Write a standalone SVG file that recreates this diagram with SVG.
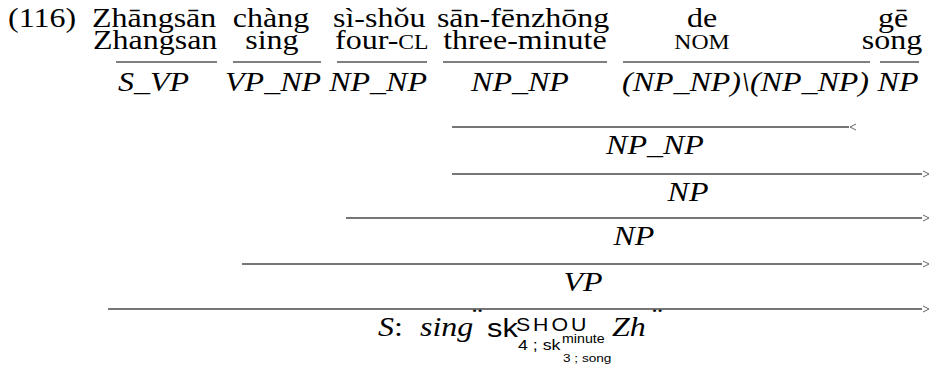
<svg xmlns="http://www.w3.org/2000/svg" width="942" height="367" viewBox="0 0 942 367">
  <style>
    .w { font-family: "Liberation Serif", "Times New Roman", serif; font-size: 27px; fill: #000; }
    .sc { font-size: 20px; }
    .cat { font-family: "Liberation Serif", "Times New Roman", serif; font-size: 27px; font-style: italic; fill: #000; }
    .mid { text-anchor: middle; }
    .end { text-anchor: end; }
    .sf { font-family: "Liberation Sans", Arial, sans-serif; fill: #000; }
    .lex { stroke: #000; stroke-width: 1.2; fill: none; }
    .rule { stroke: #4a4a4a; stroke-width: 1.6; fill: none; }
    .head { stroke: #666; stroke-width: 1; fill: none; }
  </style>

  <!-- all lettering is set slightly wide: x coordinates below are in the stretched frame -->
  <g id="labels" transform="scale(1.185 1)">
    <!-- example number -->
    <g id="num"><text class="w" x="6.75" y="27">(116)</text></g>

    <!-- words with glosses and lexical categories -->
    <g id="w1">
      <text class="w" x="77.6" y="27">Zhāngsān</text>
      <text class="w" x="78.5" y="49">Zhangsan</text>
      <text class="cat" x="99.6" y="91">S_VP</text>
    </g>
    <g id="w2">
      <text class="w mid" x="228.7" y="27">chàng</text>
      <text class="w mid" x="229.5" y="49">sing</text>
      <text class="cat end" x="270.9" y="91">VP_NP</text>
    </g>
    <g id="w3">
      <text class="w" x="281" y="27">sì-shǒu</text>
      <text class="w" x="282.7" y="49">four-<tspan class="sc">CL</tspan></text>
      <text class="cat end" x="360.3" y="91">NP_NP</text>
    </g>
    <g id="w4">
      <text class="w mid" x="441.4" y="27">sān-fēnzhōng</text>
      <text class="w mid" x="443" y="49">three-minute</text>
      <text class="cat mid" x="438.8" y="91">NP_NP</text>
    </g>
    <g id="w5">
      <text class="w mid" x="592.4" y="27">de</text>
      <text class="w mid" x="592.4" y="49"><tspan class="sc">NOM</tspan></text>
      <text class="cat end" x="733.3" y="91">(NP_NP)\(NP_NP)</text>
    </g>
    <g id="w6">
      <text class="w mid" x="753.6" y="27">gē</text>
      <text class="w mid" x="752.7" y="49">song</text>
      <text class="cat mid" x="757.8" y="91">NP</text>
    </g>

    <!-- derived categories -->
    <g id="d1"><text class="cat mid" x="552.7" y="154">NP_NP</text></g>
    <g id="d2"><text class="cat mid" x="580.6" y="201">NP</text></g>
    <g id="d3"><text class="cat mid" x="535" y="245">NP</text></g>
    <g id="d4"><text class="cat mid" x="492" y="291">VP</text></g>
    <g id="d5">
      <text class="cat" x="319" y="336">S<tspan font-style="normal">:</tspan></text>
      <text class="cat" x="354.4" y="336">sing</text>
      <text class="w" x="398.3" y="327" font-size="16">¨</text>
      <text class="sf" x="411" y="337" font-size="26">sk</text>
      <text class="sf" x="435.4" y="331" font-size="18" letter-spacing="2.5">SHOU</text>
      <text class="sf" x="437.1" y="350" font-size="15">4 ; sk</text>
      <text class="sf" x="474.3" y="343" font-size="12">minute</text>
      <text class="sf" x="475.1" y="362" font-size="11.5">3 ; song</text>
      <text class="cat" x="516.5" y="336">Zh</text>
      <text class="w" x="550.2" y="327" font-size="16">¨</text>
    </g>
  </g>

  <!-- connectors: lexical bars, combination rules and direction marks -->
  <g id="connectors">
    <path class="lex" d="M116 62H217M233 62H321M337 62H427M443 62H607M623 62H870M880 62H919"/>
    <path class="rule" d="M452 127H849M452 174H922M346 218H922M242 264H922M108 309H922"/>
    <path class="head" d="M856 124L850 127L856 130"/>
    <path class="head" d="M923 171L929 174L923 177M923 215L929 218L923 221M923 261L929 264L923 267M923 306L929 309L923 312"/>
  </g>
</svg>
